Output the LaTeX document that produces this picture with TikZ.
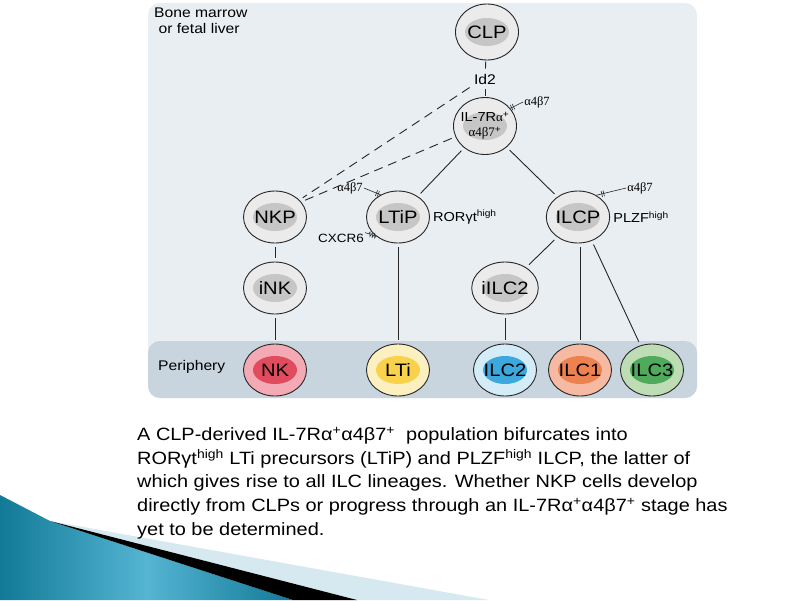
\documentclass[tikz,border=0pt]{standalone}
\usepackage{fontspec}
\setmainfont{Liberation Sans}[FakeStretch=1.12]
\newfontfamily\greekserif{Liberation Serif}
\usepackage{xcolor}
\usepackage{tikz}
\usetikzlibrary{positioning,shapes.geometric,decorations.markings,decorations.pathmorphing}
\definecolor{PanelBlue}{HTML}{E9EEF2}
\definecolor{BandBlue}{HTML}{C8D5DE}
\definecolor{CellGray}{HTML}{EBEBEB}
\definecolor{CellInner}{HTML}{C6C6C6}
\definecolor{NKouter}{HTML}{F4AAB5}
\definecolor{NKinner}{HTML}{E14B5E}
\definecolor{LTiouter}{HTML}{FDF0C0}
\definecolor{LTiinner}{HTML}{F8D24C}
\definecolor{ILCtwoOuter}{HTML}{D3ECF8}
\definecolor{ILCtwoInner}{HTML}{3CA8DE}
\definecolor{ILConeOuter}{HTML}{F6B9A2}
\definecolor{ILConeInner}{HTML}{EE8150}
\definecolor{ILCthreeOuter}{HTML}{BEDDB5}
\definecolor{ILCthreeInner}{HTML}{4FAA5C}
\definecolor{SlideTeal}{HTML}{117A96}
\definecolor{SlideTealLight}{HTML}{55B5D3}
\definecolor{SlidePale}{HTML}{D6E8F0}
\tikzset{
  cell/.style 2 args={ellipse,draw=black!85,line width=0.9pt,fill=#1,
    minimum width=63pt,minimum height=52pt,inner sep=0pt,
    font=\fontsize{18}{20}\selectfont,
    path picture={\fill[#2] (path picture bounding box.center)
      ellipse [x radius=22pt,y radius=14pt];}},
  progenitor/.style={cell={CellGray}{CellInner}},
  link/.style={draw=black!85,line width=0.9pt,shorten <=4pt,shorten >=4pt},
  uncertain/.style={link,dash pattern=on 9pt off 6pt},
  marker/.style={inner sep=1pt,font=\fontsize{13}{15}\selectfont},
  integrin/.style={inner sep=1pt,font=\greekserif\fontsize{12.5}{14}\selectfont},
  receptor/.style={draw=black!85,line width=0.6pt,
    postaction={decorate,decoration={markings,mark=at position 0.75 with
      {\draw[line width=0.6pt] (0,-3pt) -- (0,3pt) (2pt,-3pt) -- (2pt,3pt);}}}},
  chemokine/.style={draw=black!85,line width=0.6pt,decorate,
    decoration={zigzag,segment length=2.5pt,amplitude=2pt,pre length=4pt}}
}
\begin{document}
\begin{tikzpicture}[x=1pt,y=-1pt]
  \useasboundingbox (0,0) rectangle (800,600);
  % slide decoration
  \shade[left color=SlideTeal,right color=SlideTeal,middle color=SlideTealLight]
    (0,495) -- (50,521) -- (293,600) -- (0,600) -- cycle;
  \fill[SlidePale] (50,521) -- (489,600) -- (357,600) -- cycle;
  \fill[black] (50,521) -- (357,600) -- (293,600) -- cycle;
  % panel
  \fill[PanelBlue,rounded corners=12pt] (148,3) rectangle (697,398);
  \fill[BandBlue,rounded corners=12pt] (148,341) rectangle (697,398);
  \node[marker,anchor=north west,align=left,font=\fontsize{14}{16}\selectfont]
    (marrow) at (153,7) {Bone marrow\\\ or fetal liver};
  \node[marker,anchor=west,font=\fontsize{14}{16}\selectfont]
    (periphery) at (157,367) {Periphery};
  % cells
  \node[progenitor,minimum height=56pt] (clp) at (487,32) {CLP};
  \node[marker,font=\fontsize{14}{16}\selectfont] (id2) at (485,79) {Id2};
  \node[progenitor,minimum height=57pt,inner xsep=-6pt,inner ysep=-4pt,
    font=\fontsize{13}{15}\selectfont,align=center]
    (il7r) at (485,126) {IL-7R{\greekserif α}\textsuperscript{+}\\{\greekserif α4β7}\textsuperscript{+}};
  \node[progenitor] (nkp) at (275,217) {NKP};
  \node[progenitor] (ltip) at (398,217) {LTiP};
  \node[progenitor] (ilcp) at (578,217) {ILCP};
  \node[progenitor] (ink) at (275,288) {iNK};
  \node[progenitor] (iilc2) at (505,288) {iILC2};
  \node[cell={NKouter}{NKinner}] (nk) at (275,370) {NK};
  \node[cell={LTiouter}{LTiinner}] (lti) at (398,370) {LTi};
  \node[cell={ILCtwoOuter}{ILCtwoInner}] (ilc2) at (505,370) {ILC2};
  \node[cell={ILConeOuter}{ILConeInner}] (ilc1) at (580,370) {ILC1};
  \node[cell={ILCthreeOuter}{ILCthreeInner}] (ilc3) at (652,370) {ILC3};
  % surface markers
  \node[integrin] (a4b7il7r) at (537,102) {α4β7};
  \node[integrin] (a4b7ltip) at (350,188) {α4β7};
  \node[integrin] (a4b7ilcp) at (640,188) {α4β7};
  \node[marker,right=2pt of ltip] (ror) {RORγt\textsuperscript{high}};
  \node[marker,right=2pt of ilcp] (plzf) {PLZF\textsuperscript{high}};
  \node[marker,font=\fontsize{12}{14}\selectfont] (cxcr6) at (341,238) {CXCR6};
  \draw[receptor] (a4b7il7r.west) -- (il7r.35);
  \draw[receptor] (a4b7ltip.east) -- (ltip.128);
  \draw[receptor] (a4b7ilcp.west) -- (ilcp.50);
  \draw[chemokine] (cxcr6.north east) -- (ltip.222);
  % lineage links
  \draw[link,shorten <=1pt] (clp) -- (id2);
  \draw[link,shorten >=1pt] (id2) -- (il7r);
  \draw[uncertain] (id2.south west) -- (nkp.35);
  \draw[uncertain] (il7r.200) -- (nkp.30);
  \draw[link] (il7r) -- (ltip);
  \draw[link] (il7r) -- (ilcp);
  \draw[link] (nkp) -- (ink);
  \draw[link] (ink) -- (nk);
  \draw[link] (ltip) -- (lti);
  \draw[link] (ilcp) -- (iilc2);
  \draw[link] (ilc1 |- ilcp.south) -- (ilc1);
  \draw[link] (ilcp.300) -- (ilc3);
  \draw[link] (iilc2) -- (ilc2);
  % caption
  \node[anchor=north west,align=left,inner sep=0pt,
    font=\fontsize{17.8}{23.6}\selectfont] (caption) at (137,427)
    {A CLP-derived IL-7Rα\textsuperscript{+}α4β7\textsuperscript{+}\ \ population bifurcates into\\
     RORγt\textsuperscript{high} LTi precursors (LTiP) and PLZF\textsuperscript{high} ILCP, the latter of\\
     which gives rise to all ILC lineages. Whether NKP cells develop\\
     directly from CLPs or progress through an IL-7Rα\textsuperscript{+}α4β7\textsuperscript{+} stage has\\
     yet to be determined.};
\end{tikzpicture}
\end{document}
